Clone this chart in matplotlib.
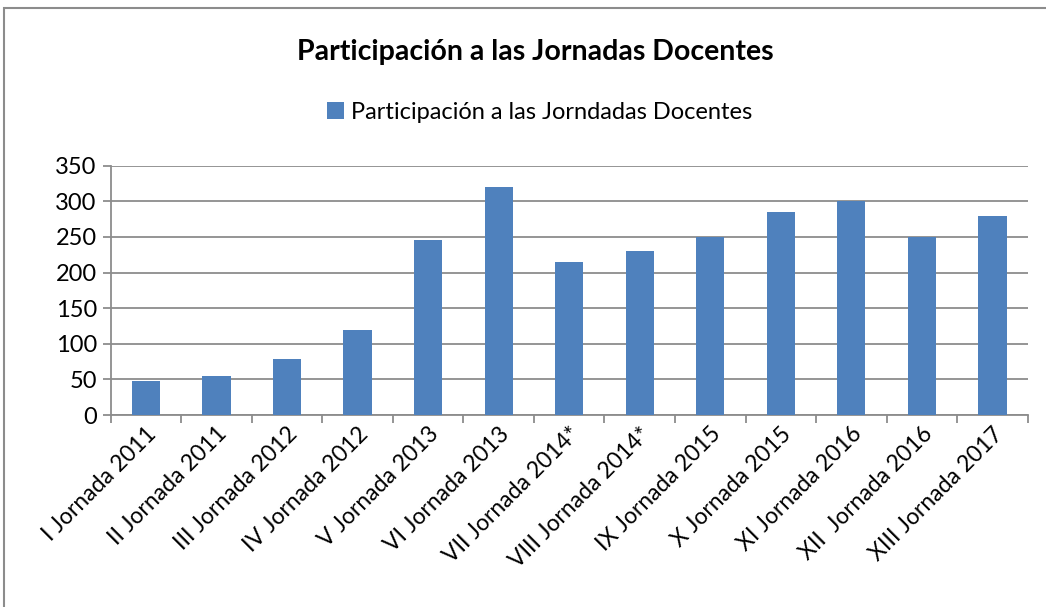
import matplotlib.pyplot as plt
from matplotlib.patches import Rectangle
import numpy as np

plt.rcParams['font.family'] = ['Lato', 'DejaVu Sans']

jornadas = ["I Jornada 2011", "II Jornada 2011", "III Jornada 2012", "IV Jornada 2012",
            "V Jornada 2013", "VI Jornada 2013", "VII Jornada 2014*", "VIII Jornada 2014*",
            "IX Jornada 2015", "X Jornada 2015", "XI Jornada 2016", "XII  Jornada 2016",
            "XIII Jornada 2017"]
participantes = [48, 55, 78, 120, 246, 320, 215, 230, 250, 285, 300, 250, 280]
serie = "Participación a las Jorndadas Docentes"
titulo = "Participación a las Jornadas Docentes"

fig = plt.figure(figsize=(10.46, 6.07), dpi=100)
ax = fig.add_axes([0.1058, 0.3163, 0.8767, 0.4107])

x = np.arange(len(jornadas))
ax.bar(x, participantes, width=0.4, color="#4F81BD", label=serie, zorder=3)

ax.set_xlim(-0.5, len(jornadas) - 0.5)
ax.set_ylim(0, 350)
ax.set_yticks(range(0, 351, 50))
ax.yaxis.grid(True, color="#8c8c8c", linewidth=1.3, zorder=0)

# etiquetas en el centro, marcas entre categorias
ax.set_xticks(x)
ax.set_xticklabels(jornadas, rotation=45, ha="right", rotation_mode="anchor", fontsize=16.5)
ax.set_xticks(np.arange(-0.5, len(jornadas)), minor=True)
ax.tick_params(axis="x", which="major", length=0, pad=6)
ax.tick_params(axis="x", which="minor", length=6, color="#8c8c8c", width=1.3)
ax.tick_params(axis="y", length=6, color="#8c8c8c", width=1.3, labelsize=17, pad=4)

for side in ["top", "right"]:
    ax.spines[side].set_visible(False)
for side in ["left", "bottom"]:
    ax.spines[side].set_color("#8c8c8c")
    ax.spines[side].set_linewidth(1.3)

fig.text(0.512, 0.915, titulo, ha="center", va="center", fontsize=20.5, fontweight="bold")
fig.legend(loc="center", bbox_to_anchor=(0.516, 0.815), frameon=False, fontsize=17,
           handlelength=0.7, handleheight=0.7, handletextpad=0.3)

fig.patches.append(Rectangle((4 / 1046, -0.01), 1.0, 1 - 8 / 607 + 0.01, transform=fig.transFigure,
                             fill=False, edgecolor="#8c8c8c", linewidth=1.5))

fig.savefig("out.png", dpi=100)
